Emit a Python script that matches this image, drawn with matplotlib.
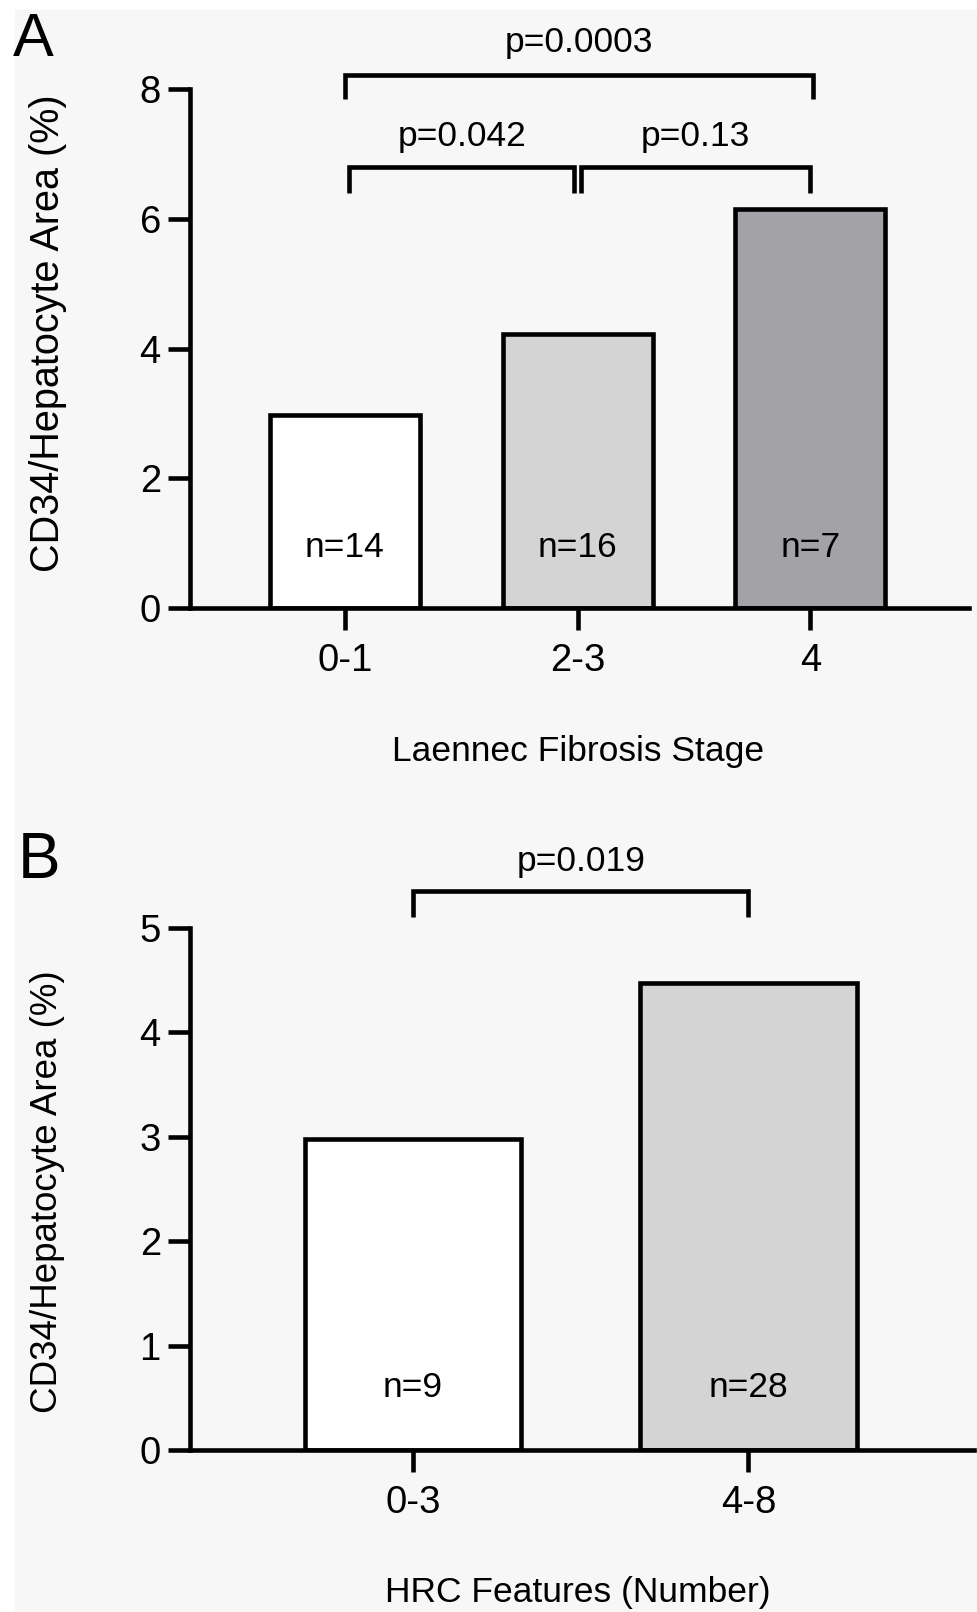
import matplotlib.pyplot as plt
from matplotlib.patches import Rectangle

plt.rcParams['font.family'] = ['Liberation Sans', 'DejaVu Sans']

# panel A: Laennec fibrosis stage
stages = ['0-1', '2-3', '4']
stage_area = [2.97, 4.22, 6.15]
stage_n = [14, 16, 7]
stage_colors = ['#ffffff', '#d4d4d4', '#a3a3a7']

# panel B: HRC features
hrc = ['0-3', '4-8']
hrc_area = [2.98, 4.47]
hrc_n = [9, 28]
hrc_colors = ['#ffffff', '#d4d4d4']

# comparisons (left bar, right bar, label)
stage_pvals = [(0, 1, 'p=0.042'), (1, 2, 'p=0.13'), (0, 2, 'p=0.0003')]
hrc_pvals = [(0, 1, 'p=0.019')]

LW = 3.3
bg = '#f7f7f7'

fig = plt.figure(figsize=(9.77, 16.12), dpi=100)
fig.add_artist(Rectangle((15 / 977, 0), 1, 1 - 10 / 1612, transform=fig.transFigure,
                         color=bg, zorder=-10))


def bracket(ax, x1, x2, y, leg, label, ty):
    ax.plot([x1, x1, x2, x2], [y - leg, y, y, y - leg], color='k', lw=LW,
            clip_on=False, solid_joinstyle='miter', solid_capstyle='butt')
    ax.text((x1 + x2) / 2, ty, label, ha='center', va='center', fontsize=25.5)


def panel(rect, cats, vals, ns, colors, yticks, xmax, nlab_y):
    ax = fig.add_axes(rect)
    ax.set_facecolor('none')
    x = range(len(cats))
    ax.bar(x, vals, width=0.645, color=colors, edgecolor='k', linewidth=LW)
    for i, n in enumerate(ns):
        ax.text(i, nlab_y, 'n=%d' % n, ha='center', va='center', fontsize=25.5)
    ax.set_xlim(-0.665, xmax)
    ax.set_ylim(0, yticks[-1])
    ax.set_xticks(list(x))
    ax.set_xticklabels(cats)
    ax.set_yticks(yticks)
    for s in ['top', 'right']:
        ax.spines[s].set_visible(False)
    for s in ['left', 'bottom']:
        ax.spines[s].set_linewidth(LW)
    ax.tick_params(length=16, width=LW, labelsize=27.5)
    ax.tick_params(axis='x', pad=9)
    ax.tick_params(axis='y', pad=5)
    return ax


axA = panel([0.1945, 0.6228, 0.797, 0.322], stages, stage_area, stage_n,
            stage_colors, [0, 2, 4, 6, 8], 2.68, 0.93)
g = 0.015
for a, b, lab in stage_pvals:
    if b - a == 1:
        x1 = a + (g if a > 0 else 0.02)
        x2 = b - (g if b < 2 else 0)
        bracket(axA, x1, x2, 6.79, 0.4, lab, 7.27)
    else:
        bracket(axA, a, b + 0.01, 8.22, 0.38, lab, 8.72)

axB = panel([0.1945, 0.1005, 0.8025, 0.3238], hrc, hrc_area, hrc_n,
            hrc_colors, [0, 1, 2, 3, 4, 5], 1.673, 0.6)
for a, b, lab in hrc_pvals:
    bracket(axB, a, b, 5.35, 0.24, lab, 5.64)

fig.text(0.049, 0.7934, 'CD34/Hepatocyte Area (%)', rotation=90, ha='center',
         va='center', fontsize=28.5)
fig.text(0.049, 0.2605, 'CD34/Hepatocyte Area (%)', rotation=90, ha='center',
         va='center', fontsize=26.5)
fig.text(0.5916, 0.534, 'Laennec Fibrosis Stage', ha='center', va='center', fontsize=25.5)
fig.text(0.5916, 0.0124, 'HRC Features (Number)', ha='center', va='center', fontsize=25.5)

fig.text(0.013, 0.9746, 'A', ha='left', va='center', fontsize=44)
fig.text(0.018, 0.4656, 'B', ha='left', va='center', fontsize=46)

fig.savefig('out.png', dpi=100)
